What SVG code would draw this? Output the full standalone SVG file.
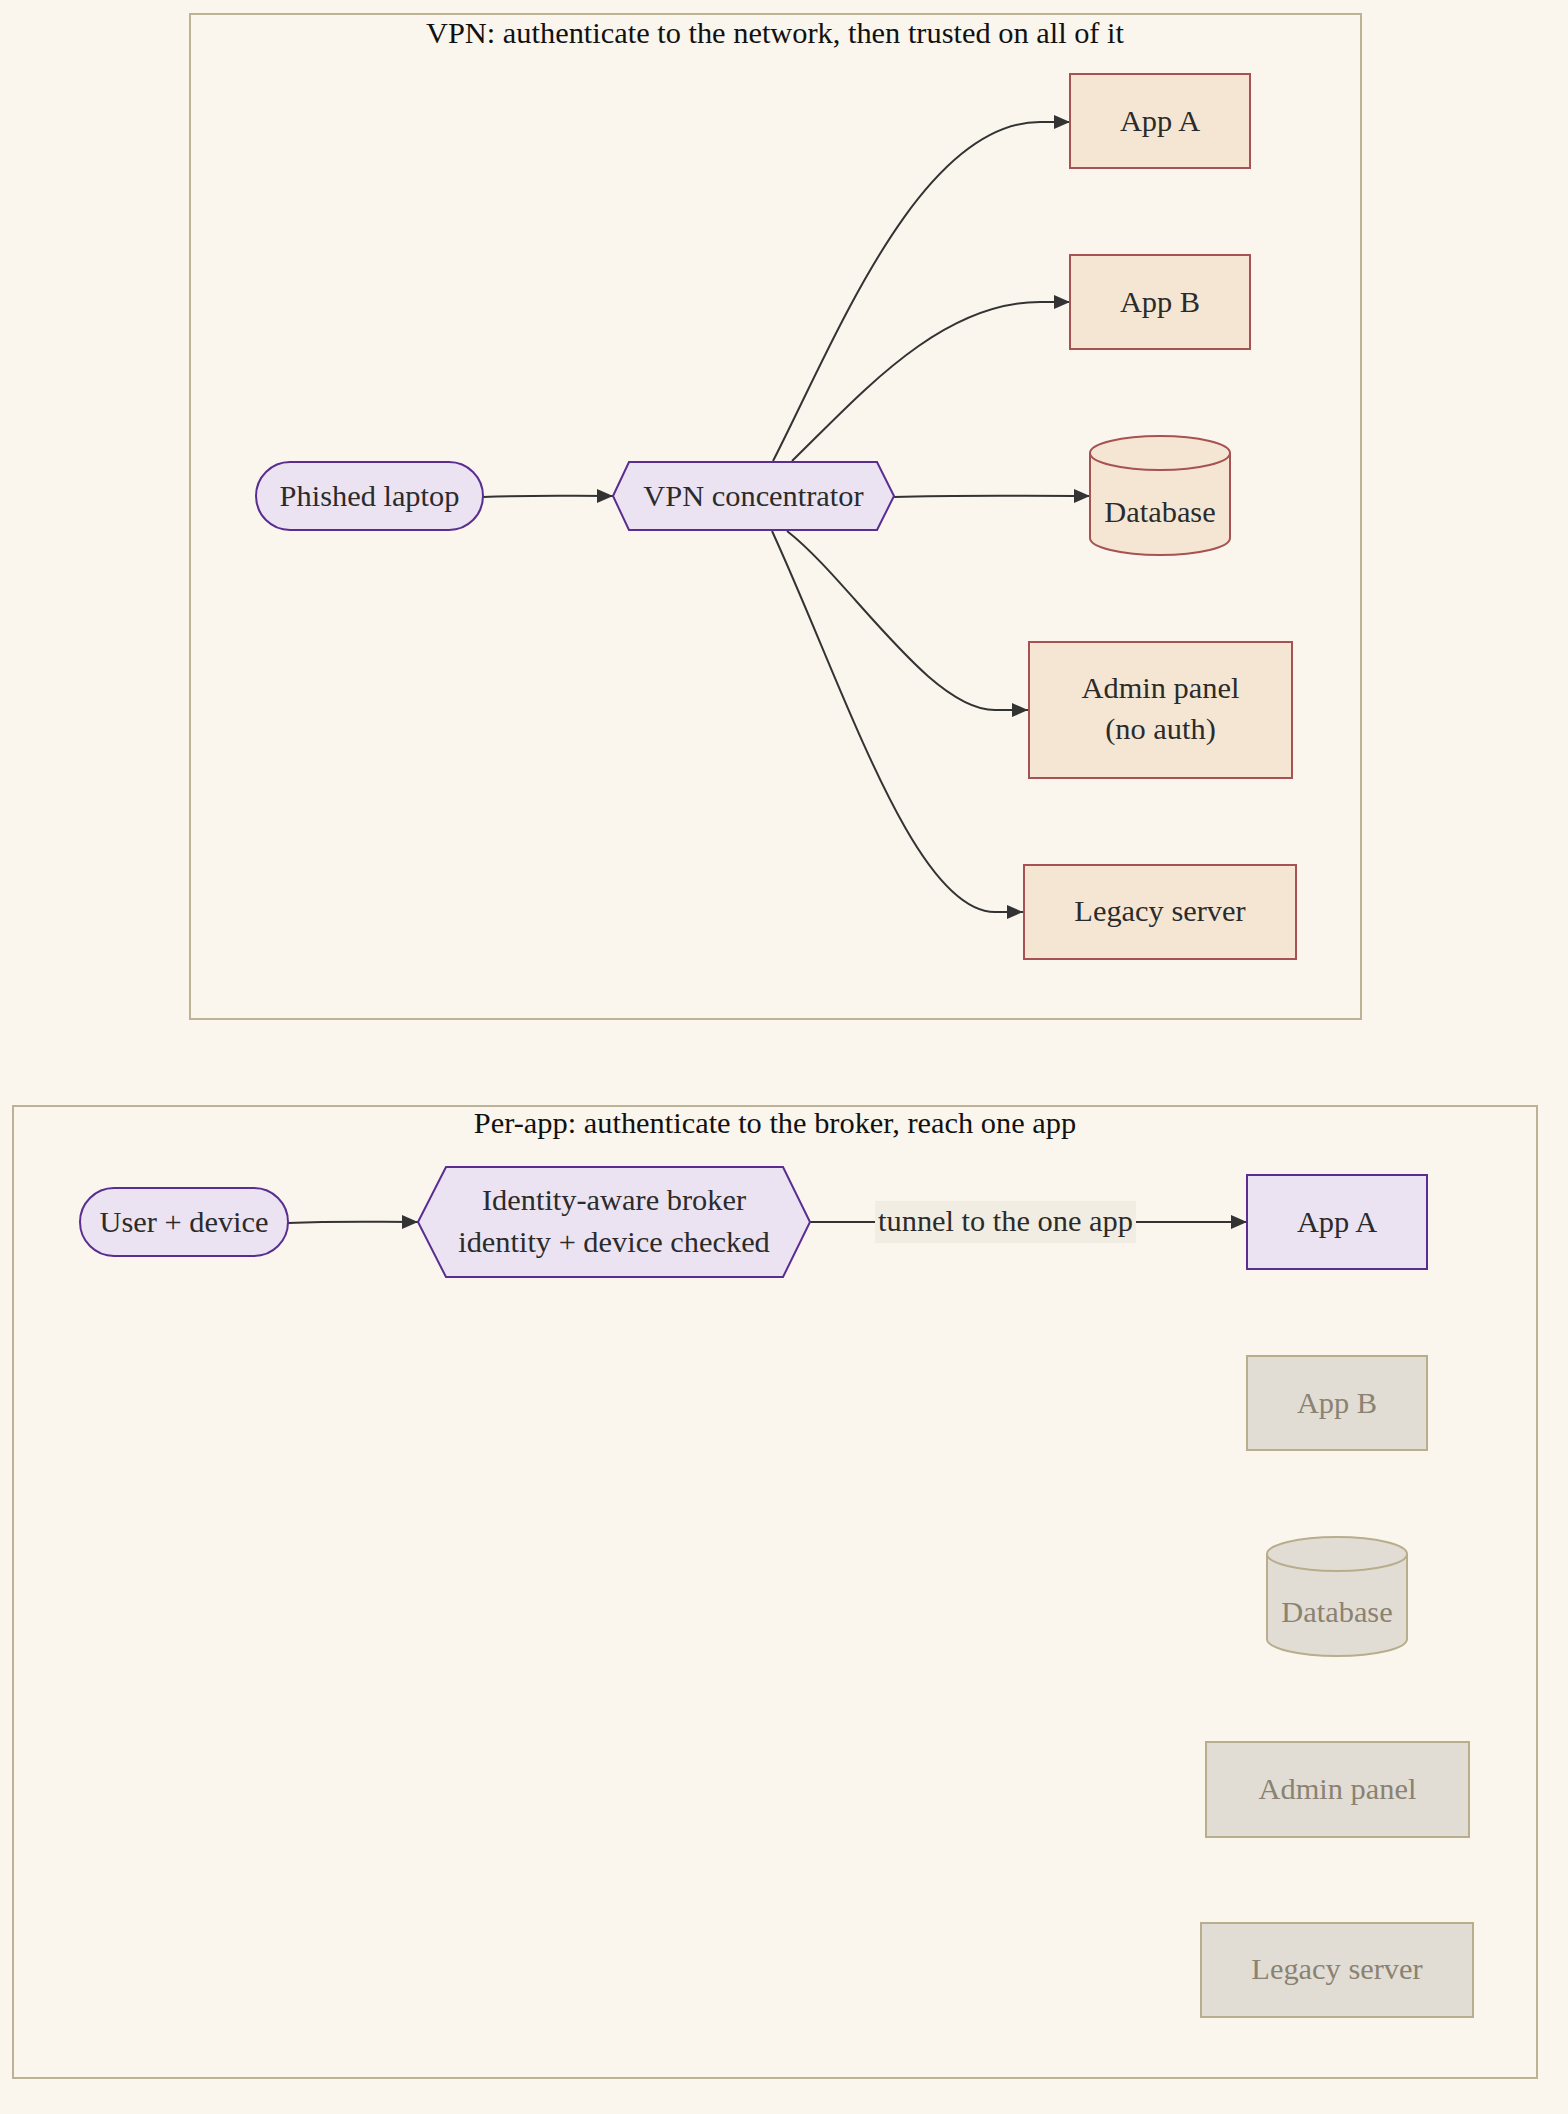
<svg xmlns="http://www.w3.org/2000/svg" width="1568" height="2114" viewBox="0 0 1568 2114">
<defs>
<marker id="arr" viewBox="0 0 16 14" refX="16" refY="7" markerWidth="16" markerHeight="14" markerUnits="userSpaceOnUse" orient="auto">
<path d="M0,0 L16,7 L0,14 z" fill="#333333"/>
</marker>
<style>
text{font-family:"Liberation Serif","Times New Roman",serif;font-size:30.4px;text-anchor:middle;fill:#2b2b2b}
.title{fill:#111111}
.cluster{fill:#faf6ee;stroke:#bcb396;stroke-width:2}
.red{fill:#f5e6d3;stroke:#a65252;stroke-width:2}
.pur{fill:#ebe3f2;stroke:#5a2d91;stroke-width:2}
.gray{fill:#e1ddd4;stroke:#b8ad8c;stroke-width:2}
.gtext{fill:#8a8272}
.edge{fill:none;stroke:#333333;stroke-width:2}
</style>
</defs>
<rect x="0" y="0" width="1568" height="2114" fill="#faf6ee"/>

<g id="cluster-vpn">
<rect class="cluster" x="190" y="14" width="1171" height="1005"/>
<text class="title" x="775" y="43">VPN: authenticate to the network, then trusted on all of it</text>
</g>
<g id="cluster-perapp">
<rect class="cluster" x="13" y="1106" width="1524" height="972"/>
<text class="title" x="775" y="1133">Per-app: authenticate to the broker, reach one app</text>
</g>

<g id="connectors">
<path class="edge" d="M483,497 C540,495 560,496 613,496" marker-end="url(#arr)"/>
<path class="edge" d="M773,461 C835,340 920,122 1040,122 L1070,122" marker-end="url(#arr)"/>
<path class="edge" d="M792,461 C860,395 940,302 1040,302 L1070,302" marker-end="url(#arr)"/>
<path class="edge" d="M894,497 C960,495 1000,496 1090,496" marker-end="url(#arr)"/>
<path class="edge" d="M787,531 C850,580 930,710 995,710 L1028,710" marker-end="url(#arr)"/>
<path class="edge" d="M772,531 C845,690 915,912 995,912 L1023,912" marker-end="url(#arr)"/>
<path class="edge" d="M288,1223 C340,1221 370,1222 418,1222" marker-end="url(#arr)"/>
<path class="edge" d="M810,1222 L1247,1222" marker-end="url(#arr)"/>
<g id="edge-label">
<rect x="875" y="1201" width="261" height="42" fill="#f2ede2"/>
<text x="1005.5" y="1231">tunnel to the one app</text>
</g>
</g>

<g id="vpn-laptop">
<rect class="pur" x="256" y="462" width="227" height="68" rx="34" ry="34"/>
<text x="369.5" y="506">Phished laptop</text>
</g>
<g id="vpn-concentrator">
<polygon class="pur" points="613,496 629,462 877,462 894,496 877,530 629,530"/>
<text x="753.5" y="506">VPN concentrator</text>
</g>
<g id="vpn-appa">
<rect class="red" x="1070" y="74" width="180" height="94"/>
<text x="1160" y="131">App A</text>
</g>
<g id="vpn-appb">
<rect class="red" x="1070" y="255" width="180" height="94"/>
<text x="1160" y="312">App B</text>
</g>
<g id="vpn-db">
<path class="red" d="M1090,453 A70,17 0 0 1 1230,453 L1230,538 A70,17 0 0 1 1090,538 Z"/>
<path class="red" d="M1090,453 A70,17 0 0 0 1230,453" fill="none"/>
<text x="1160" y="522">Database</text>
</g>
<g id="vpn-admin">
<rect class="red" x="1029" y="642" width="263" height="136"/>
<text x="1160.5" y="698">Admin panel</text>
<text x="1160.5" y="739">(no auth)</text>
</g>
<g id="vpn-legacy">
<rect class="red" x="1024" y="865" width="272" height="94"/>
<text x="1160" y="921">Legacy server</text>
</g>

<g id="pa-user">
<rect class="pur" x="80" y="1188" width="208" height="68" rx="34" ry="34"/>
<text x="184" y="1232">User + device</text>
</g>
<g id="pa-broker">
<polygon class="pur" points="418,1222 446,1167 783,1167 810,1222 783,1277 446,1277"/>
<text x="614" y="1210">Identity-aware broker</text>
<text x="614" y="1252">identity + device checked</text>
</g>
<g id="pa-appa">
<rect class="pur" x="1247" y="1175" width="180" height="94"/>
<text x="1337" y="1232">App A</text>
</g>
<g id="pa-appb">
<rect class="gray" x="1247" y="1356" width="180" height="94"/>
<text class="gtext" x="1337" y="1413">App B</text>
</g>
<g id="pa-db">
<path class="gray" d="M1267,1554 A70,17 0 0 1 1407,1554 L1407,1639 A70,17 0 0 1 1267,1639 Z"/>
<path class="gray" d="M1267,1554 A70,17 0 0 0 1407,1554" fill="none"/>
<text class="gtext" x="1337" y="1622">Database</text>
</g>
<g id="pa-admin">
<rect class="gray" x="1206" y="1742" width="263" height="95"/>
<text class="gtext" x="1337.5" y="1799">Admin panel</text>
</g>
<g id="pa-legacy">
<rect class="gray" x="1201" y="1923" width="272" height="94"/>
<text class="gtext" x="1337" y="1979">Legacy server</text>
</g>
</svg>
